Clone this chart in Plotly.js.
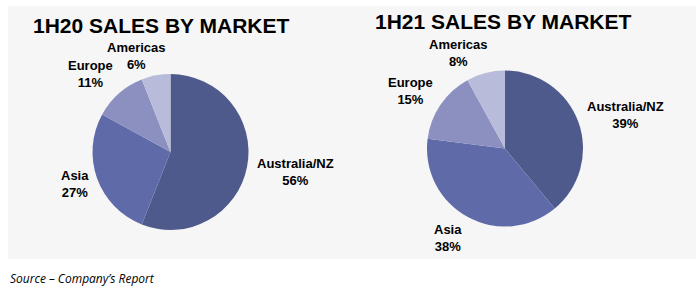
<!DOCTYPE html>
<html>
<head>
<meta charset="utf-8">
<script src="https://cdn.plot.ly/plotly-3.0.1.min.js"></script>
<style>
html,body{margin:0;padding:0;background:#fff;}
#chart{width:696px;height:292px;}
</style>
</head>
<body>
<div id="chart"></div>
<script>
var markets = ["Australia/NZ", "Asia", "Europe", "Americas"];
var sales1H20 = [56, 27, 11, 6];
var sales1H21 = [39, 38, 15, 8];
var sliceColors = ["#4f5a8c", "#5f6aa8", "#8b90c0", "#b8bbd9"];
var titles = ["1H20 SALES BY MARKET", "1H21 SALES BY MARKET"];
var sourceNote = "Source \u2013 Company\u2019s Report";

var W = 696, H = 292;
function px(x){ return x / W; }
function py(y){ return 1 - y / H; }

function pieTrace(vals, cx, cy, r){
  return {
    type: "pie",
    labels: markets,
    values: vals,
    sort: false,
    direction: "clockwise",
    rotation: 0,
    textinfo: "none",
    hoverinfo: "label+percent",
    marker: {colors: sliceColors, line: {width: 0}},
    domain: {x: [px(cx - r), px(cx + r)], y: [py(cy + r), py(cy - r)]},
    showlegend: false
  };
}

var data = [
  pieTrace(sales1H20, 170.5, 152, 78),
  pieTrace(sales1H21, 505, 148.5, 78)
];

// label block centres (layout positions)
var labelPos = [
  [[295, 172], [75, 184], [90, 74], [136, 56]],
  [[625, 115], [448, 238], [410, 91], [459, 53]]
];
var seriesVals = [sales1H20, sales1H21];
var annotations = [];
for (var c = 0; c < 2; c++) {
  for (var i = 0; i < markets.length; i++) {
    annotations.push({
      xref: "paper", yref: "paper",
      x: px(labelPos[c][i][0]), y: py(labelPos[c][i][1]),
      xanchor: "center", yanchor: "middle",
      text: "<b>" + markets[i] + "<br>" + seriesVals[c][i] + "%</b>",
      showarrow: false,
      align: "center",
      font: {family: "Liberation Sans, Arial, sans-serif", size: 13, color: "#000"}
    });
  }
}
var titlePos = [[161, 25], [503.5, 22]];
for (var t = 0; t < 2; t++) {
  annotations.push({
    xref: "paper", yref: "paper",
    x: px(titlePos[t][0]), y: py(titlePos[t][1]),
    xanchor: "center", yanchor: "middle",
    text: "<b>" + titles[t] + "</b>",
    showarrow: false,
    font: {family: "Liberation Sans, Arial, sans-serif", size: 21, color: "#000"}
  });
}
annotations.push({
  xref: "paper", yref: "paper",
  x: px(8), y: py(278),
  xanchor: "left", yanchor: "middle",
  text: "<i>" + sourceNote + "</i>",
  showarrow: false,
  font: {family: "Open Sans, sans-serif", size: 12, color: "#000"}
});

var layout = {
  width: W, height: H,
  margin: {l: 0, r: 0, t: 0, b: 0},
  paper_bgcolor: "#ffffff",
  shapes: [{
    type: "rect", xref: "paper", yref: "paper", layer: "below",
    x0: px(8), x1: 1, y0: py(259), y1: py(6),
    fillcolor: "#f6f6f6", line: {width: 0}
  }],
  annotations: annotations
};

Plotly.newPlot("chart", data, layout, {displayModeBar: false, staticPlot: true});
</script>
</body>
</html>
